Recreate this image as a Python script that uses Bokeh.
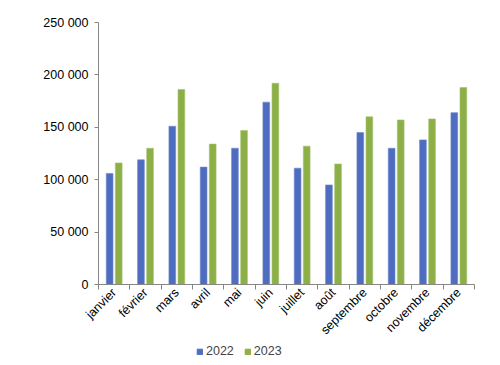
from math import pi
from bokeh.plotting import figure
from bokeh.layouts import column
from bokeh.models import ColumnDataSource, FixedTicker, Legend, LegendItem, Range1d
from bokeh.embed import file_html
from bokeh.resources import INLINE

months = ["janvier", "février", "mars", "avril", "mai", "juin", "juillet",
          "août", "septembre", "octobre", "novembre", "décembre"]
v2022 = [106000, 119000, 151000, 112000, 130000, 174000, 111000, 95000, 145000, 130000, 138000, 164000]
v2023 = [116000, 130000, 186000, 134000, 147000, 192000, 132000, 115000, 160000, 157000, 158000, 188000]
y_ticks = [0, 50000, 100000, 150000, 200000, 250000]
y_labels = ["0", "50 000", "100 000", "150 000", "200 000", "250 000"]
series = ["2022", "2023"]
colors = ["#4F6DC0", "#8DAF48"]
edges = ["#6F88CC", "#A5C36A"]

centers = [i + 0.5 for i in range(len(months))]
off = 0.145
bw = 0.215
src = ColumnDataSource(dict(
    x1=[c - off for c in centers], x2=[c + off for c in centers],
    v2022=v2022, v2023=v2023))

FONT = "Liberation Sans"
p = figure(frame_width=376, frame_height=262, output_backend="svg", toolbar_location=None,
           x_range=Range1d(0, len(months)), y_range=Range1d(0, 250000),
           min_border_left=98, min_border_right=26, min_border_top=22, min_border_bottom=50)
p.outline_line_color = None
p.xgrid.visible = False
p.ygrid.visible = False

p.vbar(x="x1", top="v2022", width=bw, source=src, fill_color=colors[0], line_color=edges[0], line_width=0.6)
p.vbar(x="x2", top="v2023", width=bw, source=src, fill_color=colors[1], line_color=edges[1], line_width=0.6)

ax = p.xaxis[0]
ax.ticker = FixedTicker(ticks=centers, minor_ticks=list(range(len(months) + 1)))
ax.major_label_overrides = {c: m for c, m in zip(centers, months)}
ax.major_label_orientation = pi / 4
ax.major_tick_line_color = None
ax.major_tick_out = 5
ax.minor_tick_in = 0
ax.minor_tick_out = 5
ax.minor_tick_line_color = "#868686"
ax.axis_line_color = "#868686"
ax.major_label_text_font = FONT
ax.major_label_text_font_size = "12.5px"
ax.major_label_text_color = "#000000"
ax.major_label_standoff = 1

ay = p.yaxis[0]
ay.ticker = FixedTicker(ticks=y_ticks, minor_ticks=[])
ay.major_label_overrides = {t: l for t, l in zip(y_ticks, y_labels)}
ay.major_tick_in = 0
ay.major_tick_out = 4
ay.major_tick_line_color = "#868686"
ay.axis_line_color = "#868686"
ay.minor_tick_line_color = None
ay.major_label_text_font = FONT
ay.major_label_text_font_size = "12.5px"
ay.major_label_text_color = "#000000"
ay.major_label_standoff = 6

# legend strip below the chart (its frame is aligned with the chart's frame)
p2 = figure(width=500, height=21, output_backend="svg", toolbar_location=None,
            x_range=Range1d(0, 1), y_range=Range1d(0, 1),
            min_border=0, min_border_left=0, min_border_right=0, min_border_top=0, min_border_bottom=0)
p2.axis.visible = False
p2.grid.visible = False
p2.outline_line_color = None
items = []
for name, c in zip(series, colors):
    # zero-size placeholder glyph, used only to draw the legend swatch
    r = p2.vbar(x=[0], top=[0], width=0, fill_color=c, line_color=c)
    items.append(LegendItem(label=name, renderers=[r]))
legend = Legend(items=items, orientation="horizontal", location=(98, 8),
                glyph_width=7, glyph_height=7, label_height=12, label_width=20,
                label_text_font=FONT, label_text_font_size="12.5px", label_standoff=3,
                spacing=10, padding=0, margin=0, border_line_color=None,
                background_fill_alpha=0)
p2.add_layout(legend)

layout = column(p, p2, spacing=0)
open("out.html", "w").write(file_html(layout, INLINE))
